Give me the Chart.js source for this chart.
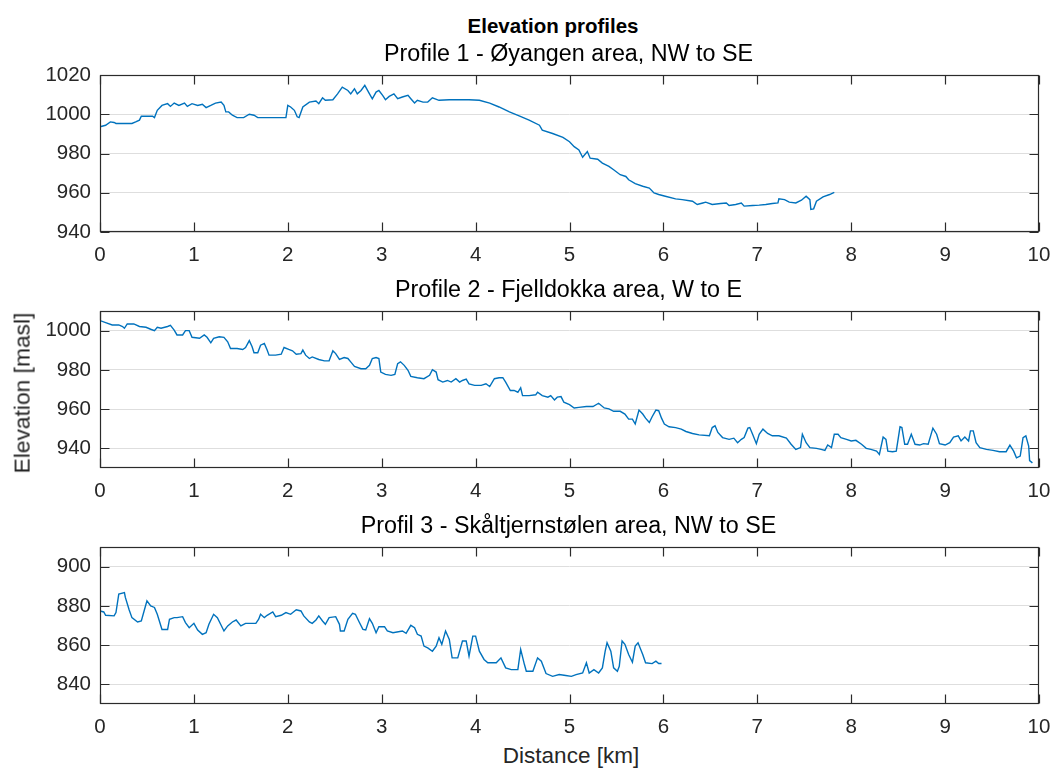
<!DOCTYPE html>
<html>
<head>
<meta charset="utf-8">
<script src="https://cdn.jsdelivr.net/npm/chart.js@4.4.0/dist/chart.umd.min.js"></script>
<style>
html,body{margin:0;padding:0;background:#fff;}
#fig{position:relative;width:1054px;height:770px;overflow:hidden;background:#fff;font-family:"Liberation Sans",Arial,Helvetica,sans-serif;}
#fig canvas{position:absolute;left:0;}
.t{position:absolute;white-space:nowrap;color:#262626;line-height:1;}
</style>
</head>
<body>
<div id="fig"></div>
<script>
// ---------- data ----------
const xTicks = [0,1,2,3,4,5,6,7,8,9,10];
const yTicks1 = [940,960,980,1000,1020];
const yTicks2 = [940,960,980,1000];
const yTicks3 = [840,860,880,900];

const supTitle = "Elevation profiles";
const subTitles = ["Profile 1 - Øyangen area, NW to SE","Profile 2 - Fjelldokka area, W to E","Profil 3 - Skåltjernstølen area, NW to SE"];
const xLabel = "Distance [km]";
const yLabel = "Elevation [masl]";

const dist1 = [0,0.06,0.11,0.15,0.17,0.34,0.38,0.42,0.44,0.56,0.58,0.61,0.66,0.72,0.75,0.79,0.84,0.90,0.93,0.98,1.04,1.09,1.13,1.18,1.23,1.29,1.32,1.34,1.37,1.41,1.46,1.53,1.59,1.64,1.68,1.98,2.00,2.03,2.07,2.10,2.12,2.16,2.23,2.30,2.33,2.37,2.40,2.48,2.53,2.58,2.64,2.67,2.71,2.74,2.78,2.82,2.87,2.90,2.94,2.97,3.01,3.04,3.08,3.13,3.17,3.22,3.28,3.31,3.35,3.38,3.44,3.49,3.54,3.61,3.72,3.83,3.93,4.04,4.15,4.25,4.36,4.47,4.57,4.68,4.71,4.82,4.93,5.00,5.05,5.10,5.14,5.19,5.22,5.30,5.35,5.42,5.47,5.54,5.60,5.63,5.70,5.78,5.85,5.90,5.95,6.02,6.13,6.20,6.31,6.36,6.42,6.45,6.52,6.61,6.67,6.70,6.77,6.83,6.86,6.95,7.02,7.09,7.16,7.22,7.23,7.29,7.34,7.41,7.47,7.52,7.56,7.57,7.60,7.63,7.70,7.77,7.82];
const elev1 = [993.6,994.4,996.1,995.8,995.3,995.3,996.1,997.0,999.0,999.0,998.3,1002.0,1004.5,1005.4,1004.0,1005.7,1004.5,1005.7,1004.0,1005.4,1004.5,1005.1,1003.4,1004.5,1005.7,1006.2,1004.5,1001.2,1001.2,999.5,998.3,998.3,1000.0,999.5,998.3,998.3,1004.5,1003.7,1002.0,998.7,998.3,1003.7,1006.2,1006.7,1005.4,1008.4,1007.1,1007.4,1010.4,1013.8,1012.1,1010.4,1013.0,1010.4,1012.1,1014.7,1010.4,1007.9,1011.3,1012.1,1009.6,1007.4,1009.1,1010.4,1007.9,1008.8,1009.6,1007.9,1005.7,1007.1,1006.2,1006.2,1008.4,1007.1,1007.4,1007.4,1007.4,1007.1,1005.7,1003.7,1001.2,999.0,997.0,994.4,991.9,990.2,988.2,986.0,983.5,981.8,978.1,981.0,977.6,977.1,975.1,973.4,971.7,969.2,968.3,966.6,964.6,963.3,962.4,959.9,959.1,958.2,956.9,956.5,955.7,954.0,954.8,955.2,954.0,954.5,954.8,953.5,954.0,954.8,953.2,953.5,953.7,954.0,954.5,954.8,956.9,956.5,955.2,954.8,956.2,958.2,956.5,951.5,951.8,955.7,957.9,959.1,960.2];

const dist2 = [0,0.06,0.13,0.20,0.24,0.26,0.29,0.36,0.42,0.49,
0.54,0.58,0.61,0.65,0.72,0.75,0.79,0.82,0.88,0.91,
0.95,0.98,1.06,1.11,1.14,1.18,1.21,1.27,1.32,1.36,
1.39,1.46,1.52,1.55,1.59,1.62,1.64,1.68,1.71,1.75,
1.78,1.80,1.87,1.93,1.96,2.01,2.05,2.09,2.14,2.16,
2.19,2.23,2.26,2.33,2.39,2.44,2.48,2.51,2.55,2.60,
2.64,2.67,2.71,2.78,2.83,2.87,2.90,2.94,2.97,2.99,
3.04,3.10,3.14,3.17,3.20,3.24,3.28,3.31,3.38,3.45,
3.51,3.54,3.58,3.60,3.65,3.70,3.74,3.79,3.83,3.86,
3.90,3.93,3.99,4.06,4.11,4.15,4.20,4.25,4.29,4.32,
4.37,4.41,4.45,4.48,4.50,4.57,4.64,4.66,4.71,4.77,
4.80,4.84,4.87,4.91,4.94,5.00,5.05,5.10,5.18,5.25,
5.31,5.37,5.42,5.47,5.54,5.59,5.63,5.67,5.70,5.74,
5.78,5.81,5.85,5.88,5.92,5.95,5.98,6.01,6.06,6.13,
6.19,6.24,6.31,6.38,6.49,6.52,6.55,6.58,6.63,6.70,
6.75,6.79,6.83,6.86,6.90,6.92,6.95,6.99,7.02,7.06,
7.11,7.16,7.23,7.31,7.36,7.41,7.46,7.48,7.52,7.56,
7.63,7.68,7.72,7.75,7.79,7.82,7.86,7.89,7.95,8.00,
8.05,8.11,8.16,8.21,8.27,8.30,8.34,8.37,8.39,8.44,
8.48,8.52,8.54,8.57,8.60,8.64,8.68,8.73,8.77,8.82,
8.87,8.91,8.94,9.00,9.05,9.09,9.14,9.17,9.21,9.25,
9.27,9.30,9.33,9.37,9.44,9.51,9.58,9.65,9.69,9.73,
9.76,9.80,9.83,9.86,9.89,9.90,9.93];
const elev2 = [1005.1,1004.1,1002.9,1002.9,1002.1,1001.2,1003.4,1003.4,1002.1,1001.7,
1000.7,1000.0,1001.7,1001.2,1002.1,1002.7,1000.3,997.8,997.8,1000.0,
1000.0,996.6,996.1,997.8,996.6,993.8,996.1,996.9,996.6,994.3,
990.9,990.9,990.4,991.4,994.9,991.8,988.7,988.7,992.6,993.5,
990.1,987.5,987.5,988.0,991.4,990.4,989.7,988.0,988.3,990.1,
987.5,985.8,986.6,985.3,984.6,984.6,989.7,988.3,985.3,986.3,
985.8,984.1,981.8,980.6,980.6,982.3,985.8,986.3,985.8,978.9,
977.7,977.2,977.7,983.2,984.1,982.3,979.8,976.7,976.0,975.5,
977.2,980.1,978.9,975.0,973.8,974.6,973.8,975.5,973.8,974.6,
975.3,972.9,972.1,972.1,972.9,971.5,975.5,976.0,976.0,973.8,
969.5,969.5,968.6,970.9,966.9,966.9,967.3,968.6,966.9,966.1,
966.9,964.7,966.1,966.4,963.5,962.3,960.6,960.9,961.3,961.3,
963.0,960.6,960.1,958.9,958.9,957.5,954.9,954.9,952.4,959.5,
957.5,955.4,953.2,956.1,959.5,959.2,955.4,952.4,951.0,950.6,
949.8,948.6,947.6,946.9,946.4,950.6,951.5,948.1,945.5,944.6,
945.2,942.9,944.6,945.5,950.3,950.6,947.2,942.4,947.2,949.8,
947.6,946.4,946.4,945.2,942.1,939.5,940.4,947.2,942.9,940.4,
940.0,939.5,939.0,941.7,940.4,947.2,947.2,945.5,944.6,943.8,
944.1,942.1,940.0,939.5,938.6,936.9,945.8,944.6,938.6,938.3,
938.6,951.0,950.6,942.1,942.1,947.2,942.1,941.7,942.4,942.1,
950.3,947.2,942.4,941.7,942.9,945.8,946.4,943.8,945.8,943.8,
948.9,948.9,942.9,940.4,939.5,939.0,938.3,938.3,941.7,938.6,
935.2,936.1,945.5,946.4,941.2,933.8,932.6];

const dist3 = [0,0.04,0.06,0.15,0.17,0.20,0.26,0.27,0.31,0.34,
0.40,0.44,0.48,0.50,0.54,0.58,0.61,0.66,0.72,0.74,
0.79,0.82,0.88,0.91,0.95,1.00,1.04,1.09,1.13,1.16,
1.21,1.25,1.29,1.32,1.36,1.41,1.45,1.50,1.55,1.66,
1.69,1.71,1.75,1.78,1.84,1.87,1.93,1.98,2.03,2.09,
2.14,2.17,2.23,2.26,2.30,2.33,2.37,2.40,2.44,2.51,
2.55,2.56,2.60,2.64,2.69,2.72,2.76,2.80,2.83,2.87,
2.90,2.94,2.97,3.03,3.06,3.12,3.22,3.26,3.31,3.35,
3.38,3.42,3.45,3.49,3.54,3.58,3.61,3.64,3.68,3.72,
3.75,3.81,3.86,3.90,3.93,3.97,4.00,4.04,4.09,4.13,
4.22,4.27,4.32,4.38,4.45,4.48,4.52,4.54,4.61,4.66,
4.70,4.75,4.82,4.89,4.96,5.02,5.07,5.14,5.18,
5.21,5.26,5.31,5.35,5.38,5.40,5.44,5.47,5.51,5.53,
5.56,5.59,5.63,5.67,5.70,5.73,5.78,5.81,5.88,5.92,
5.95,5.98];
const elev3 = [877.4,876.9,875.2,874.9,876.6,886.0,886.8,884.3,878.0,874.0,
871.8,872.3,879.2,882.6,880.0,879.2,875.7,868.0,868.0,873.2,
874.0,874.0,874.5,871.5,868.9,871.1,867.7,865.5,866.3,870.6,
875.7,874.0,870.1,867.2,869.8,871.8,872.8,869.8,871.1,871.1,
873.2,875.7,874.0,875.2,876.9,874.5,875.2,876.6,875.7,878.0,
877.4,874.9,871.8,871.1,872.8,874.9,872.3,870.6,874.0,874.5,
870.6,867.2,867.2,873.2,876.2,875.7,871.8,868.0,867.7,873.5,
871.1,866.3,869.4,869.4,867.2,866.3,867.2,866.0,870.1,868.9,
865.5,864.6,859.5,858.6,856.9,859.5,863.8,860.4,867.2,862.9,
853.5,853.5,862.1,862.1,854.4,864.6,864.6,856.9,852.7,851.0,
851.0,853.5,848.4,847.5,847.5,857.8,850.1,846.7,846.7,853.5,
851.8,845.5,844.1,845.0,844.5,844.1,845.0,845.8,851.0,
845.8,847.5,845.8,848.4,856.9,861.2,856.9,848.4,846.7,849.2,
862.1,860.4,855.2,851.3,859.5,861.2,855.2,851.0,850.6,851.8,
850.6,850.6];

[[dist1,elev1],[dist2,elev2],[dist3,elev3]].forEach((p,i)=>{
  if(p[0].length!==p[1].length) throw new Error('length mismatch in profile '+(i+1)+': '+p[0].length+' vs '+p[1].length);
});

// ---------- layout ----------
const FONT = '"Liberation Sans", Arial, Helvetica, sans-serif';
const W = 1054, LEFT = 100, RIGHT = 1039, PAD_TOP = 14, XAXIS_H = 36, PLOT_H = 157, TICK_LEN = 9;
const plotTops = [75, 311, 547];
const INK = '#262626';
const fig = document.getElementById('fig');

const boxPlugin = {
  id: 'matlabBox',
  afterDatasetsDraw(chart){
    const {ctx, chartArea:a, scales:{x, y}} = chart;
    const L = Math.round(a.left)+0.5, R = Math.round(a.right)-0.5, T = Math.round(a.top)+0.5, B = Math.round(a.bottom)-0.5;
    ctx.save();
    ctx.strokeStyle = '#2b2b2b'; ctx.lineWidth = 1.2;
    ctx.beginPath();
    x.ticks.forEach(t=>{
      const px = Math.round(x.getPixelForValue(t.value))+0.5;
      ctx.moveTo(px, B); ctx.lineTo(px, B-TICK_LEN);
      ctx.moveTo(px, T); ctx.lineTo(px, T+TICK_LEN);
    });
    y.ticks.forEach(t=>{
      const py = Math.round(y.getPixelForValue(t.value))+0.5;
      ctx.moveTo(L, py); ctx.lineTo(L+TICK_LEN, py);
      ctx.moveTo(R, py); ctx.lineTo(R-TICK_LEN, py);
    });
    ctx.stroke();
    ctx.strokeRect(L, T, R-L, B-T);
    ctx.restore();
  }
};

function zeroPad(s){ s.paddingTop = 0; s.paddingBottom = 0; s.paddingLeft = 0; s.paddingRight = 0; }

function makeChart(idx, dist, elev, yMin, yMax, yTicks){
  const c = document.createElement('canvas');
  const H = PAD_TOP + PLOT_H + XAXIS_H;
  c.width = W; c.height = H;
  c.style.width = W+'px'; c.style.height = H+'px';
  c.style.top = (plotTops[idx]-PAD_TOP)+'px';
  fig.appendChild(c);
  return new Chart(c, {
    type: 'line',
    data: { datasets: [{
      data: dist.map((d,i)=>({x:d, y:elev[i]})),
      borderColor: '#0072BD', borderWidth: 1.4, pointRadius: 0, fill: false, tension: 0
    }]},
    options: {
      responsive: false, animation: false, devicePixelRatio: 1,
      layout: { padding: { top: PAD_TOP, left: 0, right: W-RIGHT, bottom: 0 } },
      plugins: { legend:{display:false}, tooltip:{enabled:false}, title:{display:false} },
      scales: {
        x: {
          type: 'linear', min: 0, max: 10,
          afterBuildTicks: s => { s.ticks = xTicks.map(v=>({value:v})); },
          afterFit: s => { s.height = XAXIS_H; zeroPad(s); },
          grid: { display:false }, border: { display:false },
          ticks: { color: INK, font:{family:FONT, size:20.5}, padding: 3, maxRotation:0, autoSkip:false, callback: v => String(v) }
        },
        y: {
          type: 'linear', min: yMin, max: yMax,
          afterBuildTicks: s => { s.ticks = yTicks.map(v=>({value:v})); },
          afterFit: s => { s.width = LEFT; zeroPad(s); },
          grid: { color:'#dedede', lineWidth:1, drawTicks:false }, border: { display:false },
          ticks: { color: INK, font:{family:FONT, size:20.5}, padding: 9, callback: v => String(v) }
        }
      }
    },
    plugins: [boxPlugin]
  });
}

makeChart(0, dist1, elev1, 940, 1020, yTicks1);
makeChart(1, dist2, elev2, 930, 1010, yTicks2);
makeChart(2, dist3, elev3, 830, 910, yTicks3);

// ---------- text ----------
function addText(txt, size, cx, baseline, opts={}){
  const d = document.createElement('div');
  d.className = 't';
  d.textContent = txt;
  d.style.fontSize = size+'px';
  if(opts.bold) d.style.fontWeight = 'bold';
  if(opts.color) d.style.color = opts.color;
  d.style.left = cx+'px';
  d.style.top = (baseline - 0.8465*size)+'px';
  d.style.transform = 'translateX(-50%)';
  fig.appendChild(d);
  return d;
}
addText(supTitle, 20.5, 553, 33, {bold:true, color:'#000'});
const plotCx = (LEFT+RIGHT)/2;
subTitles.forEach((s,i)=> addText(s, 23.3, plotCx - 1, plotTops[i]-13, {color:'#000'}));
addText(xLabel, 22.5, 571, 764);
const yl = document.createElement('div');
yl.className = 't';
yl.textContent = yLabel;
yl.style.fontSize = '22.8px';
yl.style.left = '22px';
yl.style.top = '393px';
yl.style.transform = 'translate(-50%,-50%) rotate(-90deg)';
fig.appendChild(yl);
</script>
</body>
</html>
